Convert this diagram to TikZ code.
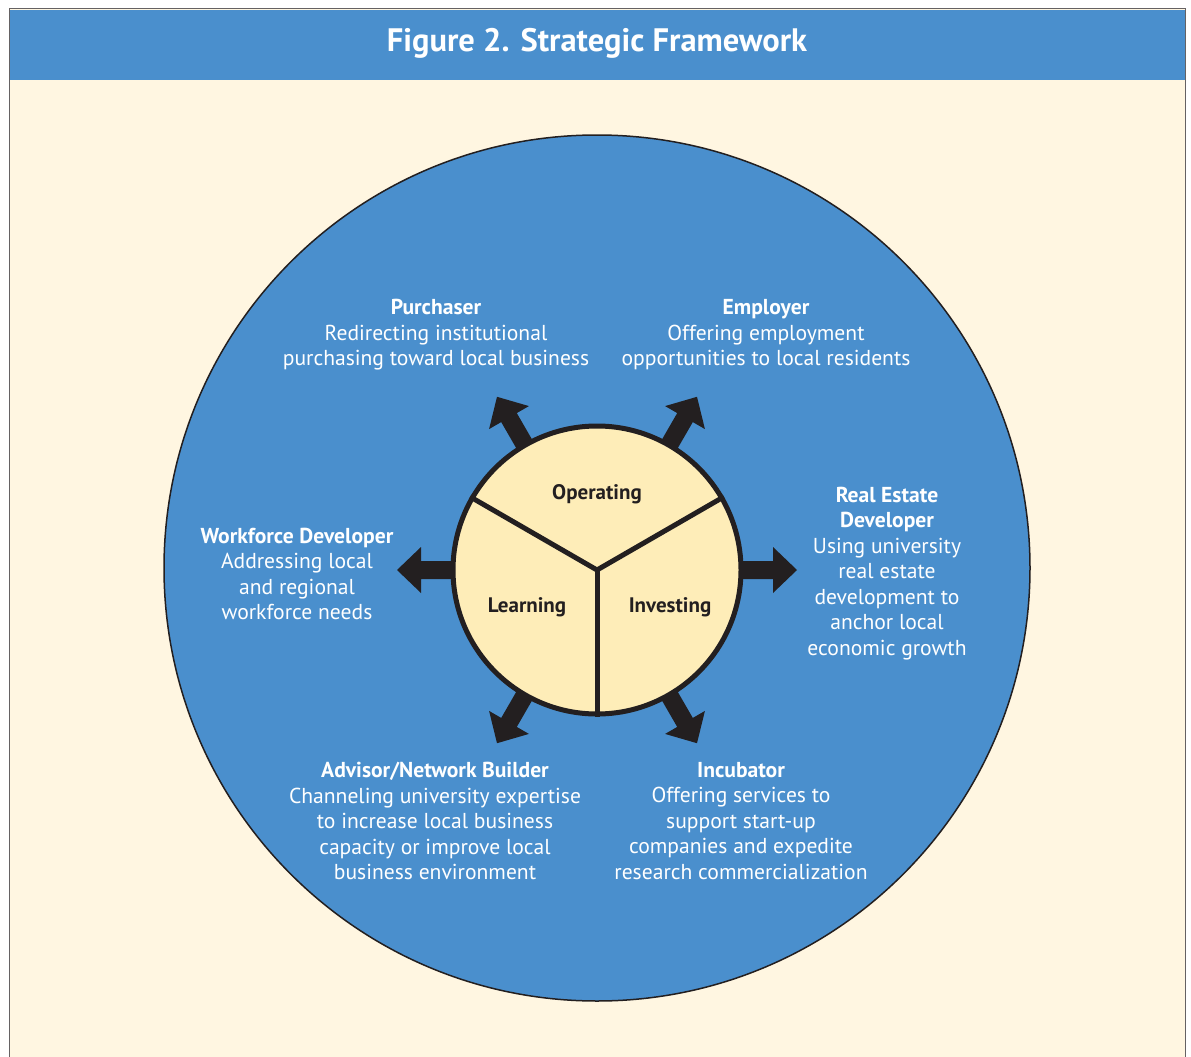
\documentclass[tikz,border=0pt]{standalone}
\usepackage{fontspec}
\setmainfont{PT Sans}
\usetikzlibrary{positioning}
\definecolor{frameblue}{RGB}{74,143,205}
\definecolor{paper}{RGB}{255,246,225}
\definecolor{hubfill}{RGB}{254,237,184}
\definecolor{ink}{RGB}{35,31,32}
\tikzset{every picture/.style={line width=0.75pt}}
\tikzset{
  role/.style={text=white, align=center, font=\fontsize{21.6}{25.5}\selectfont},
  part/.style={text=ink, font=\fontsize{21}{25}\selectfont\bfseries},
  spoke/.style={ink, line width=5pt},
}

\begin{document}
\begin{tikzpicture}[x=1pt,y=1pt,yscale=-1,xscale=1]
    \clip (0,0) rectangle (1191,1057);
    \fill[white] (0,0) rectangle (1191,1057);
    \draw[fill=paper, draw=ink!70, line width=1pt] (9.5,8.5) rectangle (1185.5,1080);
    \fill[frameblue] (10,10) rectangle (1185,80);
    \node[text=white, font=\fontsize{32.5}{38}\selectfont\bfseries] (title) at (597,43) {Figure 2. Strategic Framework};
    % big circle
    \draw[fill=frameblue, draw=ink, line width=1.5pt] (597,568) circle (433);
    \coordinate (c) at (597,570);
    % arrows out of the hub
    \foreach \a in {0,60,120,180,240,300}
      \fill[ink, shift={(c)}, rotate=\a] (140,-9) -- (176,-9) -- (176,-23) -- (200,0) -- (176,23) -- (176,9) -- (140,9) -- cycle;
    % hub
    \node[circle, draw=ink, fill=hubfill, line width=5pt, minimum size=288pt, inner sep=0pt] (hub) at (c) {};
    \draw[spoke] (hub.center) -- (hub.150);
    \draw[spoke] (hub.center) -- (hub.30);
    \draw[spoke] (hub.center) -- (hub.270);
    \node[part] (operating) at (597,494) {Operating};
    \node[part] (learning) at (527,607) {Learning};
    \node[part] (investing) at (670,607) {Investing};
    % roles
    \node[role] (purchaser) at (436,335) {\textbf{Purchaser}\\Redirecting institutional\\purchasing toward local business};
    \node[role] (employer) at (766,335) {\textbf{Employer}\\Offering employment\\opportunities to local residents};
    \node[role] (realestate) at (887,573.5) {\textbf{Real Estate}\\\textbf{Developer}\\Using university\\real estate\\development to\\anchor local\\economic growth};
    \node[role] (workforce) at (297,574) {\textbf{Workforce Developer}\\Addressing local\\and regional\\workforce needs};
    \node[role] (advisor) at (435,821) {\textbf{Advisor/Network Builder}\\Channeling university expertise\\to increase local business\\capacity or improve local\\business environment};
    \node[role] (incubator) at (741,821) {\textbf{Incubator}\\Offering services to\\support start-up\\companies and expedite\\research commercialization};
\end{tikzpicture}
\end{document}
